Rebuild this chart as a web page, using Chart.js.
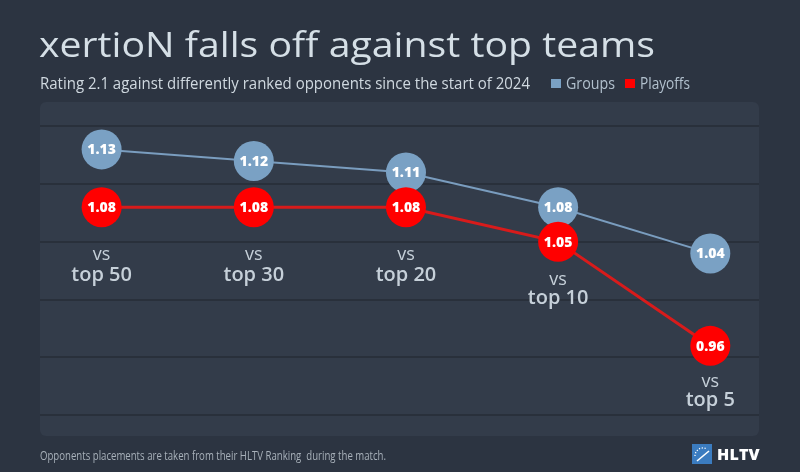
<!DOCTYPE html>
<html>
<head>
<meta charset="utf-8">
<script src="https://cdn.jsdelivr.net/npm/chart.js@4.4.1/dist/chart.umd.min.js"></script>
<style>
  html, body { margin: 0; padding: 0; background: #2c3441; }
  #wrap { position: relative; width: 800px; height: 472px; overflow: hidden; font-family: "Open Sans", sans-serif; }
  canvas { position: absolute; left: 0; top: 0; }
  .txt { position: absolute; white-space: pre; transform-origin: 0 50%; }
  #title { left: 39px; top: 20px; font-size: 34px; line-height: 48px; color: #d5dfe6; }
  #subtitle { left: 40px; top: 72px; font-size: 16px; line-height: 22px; color: #d0d9e0; }
  #legend { position: absolute; left: 551px; top: 72px; height: 22px; display: flex; align-items: center; font-size: 16px; color: #b2c1ce; }
  #legend span.box { display: inline-block; width: 10px; height: 9px; margin-right: 5px; margin-top: 1px; }
  #legend span.lab { display: inline-block; white-space: pre; transform-origin: 0 50%; }
  #footer { left: 40px; top: 448px; font-size: 12px; line-height: 16px; color: #a8b1ba; }
  #logo { position: absolute; left: 692px; top: 443px; display: flex; align-items: center; }
  #logo b { font-size: 16px; font-weight: 800; color: #ffffff; margin-left: 5px; letter-spacing: 0.2px; }
</style>
</head>
<body>
<div id="wrap">
  <canvas id="chart" width="800" height="472"></canvas>
  <div id="title" class="txt">xertioN falls off against top teams</div>
  <div id="subtitle" class="txt">Rating 2.1 against differently ranked opponents since the start of 2024</div>
  <div id="legend"></div>
  <div id="footer" class="txt">Opponents placements are taken from their HLTV Ranking  during the match.</div>
  <div id="logo">
    <svg width="20" height="20" viewBox="0 0 20 20">
      <rect width="20" height="20" fill="#3b7cc0"/>
      <path d="M3 12 A8 8 0 0 1 15 5" stroke="#ffffff" stroke-width="1.3" fill="none" stroke-dasharray="1.2 1.6"/>
      <line x1="5" y1="17" x2="17" y2="7" stroke="#ffffff" stroke-width="1.6"/>
    </svg>
    <b>HLTV</b>
  </div>
</div>
<script>
// opponent rank buckets
const categories = ['top 50', 'top 30', 'top 20', 'top 10', 'top 5'];
const seriesNames = ['Groups', 'Playoffs'];
// rating 2.1 per bucket
const groupsRating = [1.13, 1.12, 1.11, 1.08, 1.04];
const playoffsRating = [1.08, 1.08, 1.08, 1.05, 0.96];
// horizontal grid lines
const gridValues = [0.90, 0.95, 1.00, 1.05, 1.10, 1.15];

const blue = '#7aa1c4';
const red = '#ff0000';

// squeeze the condensed looking texts to their width in the picture
function fitWidth(el, w) {
    const natural = el.getBoundingClientRect().width;
    el.style.transform = 'scaleX(' + (w / natural) + ')';
    return natural;
}

// legend in html
const legendEl = document.getElementById('legend');
const legendWidths = [49, 50];
[[seriesNames[0], blue], [seriesNames[1], red]].forEach(([name, col], i) => {
    const box = document.createElement('span');
    box.className = 'box';
    box.style.background = col;
    const lab = document.createElement('span');
    lab.className = 'lab';
    lab.textContent = name;
    legendEl.appendChild(box);
    legendEl.appendChild(lab);
    const natural = fitWidth(lab, legendWidths[i]);
    // keep the gap after the squeezed text
    lab.style.marginRight = (legendWidths[i] - natural + 10) + 'px';
});

fitWidth(document.getElementById('title'), 616);
fitWidth(document.getElementById('subtitle'), 490);
fitWidth(document.getElementById('footer'), 346);

// panel behind the plot
const panelPlugin = {
    id: 'panel',
    beforeDraw(chart) {
        const { ctx, chartArea: a } = chart;
        ctx.save();
        ctx.fillStyle = '#333c4a';
        ctx.beginPath();
        ctx.roundRect(a.left, a.top, a.right - a.left, a.bottom - a.top, 6);
        ctx.fill();
        ctx.restore();
    }
};

// value inside each circle, drawn right after its own dataset
const valuePlugin = {
    id: 'values',
    afterDatasetDraw(chart, args) {
        const { ctx } = chart;
        const ds = chart.data.datasets[args.index];
        ctx.save();
        ctx.fillStyle = '#ffffff';
        ctx.font = '800 14px "Open Sans"';
        ctx.textAlign = 'center';
        ctx.textBaseline = 'middle';
        args.meta.data.forEach((pt, i) => {
            ctx.fillText(ds.data[i].y.toFixed(2), pt.x, pt.y + 1);
        });
        ctx.restore();
    }
};

// "vs top N" under the lowest circle of each bucket
const catPlugin = {
    id: 'cats',
    afterDatasetsDraw(chart) {
        const { ctx } = chart;
        const gapVs = [48, 48, 48, 38, 36];
        const gapTop = [68, 68, 68, 56, 54];
        const metas = chart.data.datasets.map((d, i) => chart.getDatasetMeta(i));
        ctx.save();
        ctx.fillStyle = '#c6d0d9';
        ctx.textAlign = 'center';
        ctx.textBaseline = 'middle';
        categories.forEach((c, i) => {
            const x = metas[0].data[i].x;
            const y = Math.max(...metas.map(m => m.data[i].y));
            ctx.font = '18px "Open Sans"';
            ctx.fillText('vs', x, y + gapVs[i]);
            ctx.font = '600 20px "Open Sans"';
            ctx.fillText(c, x, y + gapTop[i]);
        });
        ctx.restore();
    }
};

new Chart(document.getElementById('chart').getContext('2d'), {
    type: 'line',
    data: {
        datasets: [
            {
                label: seriesNames[0],
                data: groupsRating.map((v, i) => ({ x: i, y: v })),
                borderColor: '#7a9dbf',
                borderWidth: 2,
                pointRadius: 20,
                pointHoverRadius: 20,
                pointBorderWidth: 0,
                pointBackgroundColor: blue,
                order: 2
            },
            {
                label: seriesNames[1],
                data: playoffsRating.map((v, i) => ({ x: i, y: v })),
                borderColor: '#d81b1b',
                borderWidth: 3,
                pointRadius: 20,
                pointHoverRadius: 20,
                pointBorderWidth: 0,
                pointBackgroundColor: red,
                order: 1
            }
        ]
    },
    options: {
        responsive: false,
        animation: false,
        layout: { padding: { left: 40, right: 41, top: 102, bottom: 36 } },
        scales: {
            x: { type: 'linear', min: -0.405, max: 4.32, display: false },
            y: {
                min: 0.882,
                max: 1.171,
                afterBuildTicks: (scale) => { scale.ticks = gridValues.map(v => ({ value: v })); },
                ticks: { display: false },
                border: { display: false },
                grid: { color: '#29303b', lineWidth: 2, drawTicks: false }
            }
        },
        plugins: {
            legend: { display: false },
            tooltip: { enabled: false }
        }
    },
    plugins: [panelPlugin, valuePlugin, catPlugin]
});
</script>
</body>
</html>
